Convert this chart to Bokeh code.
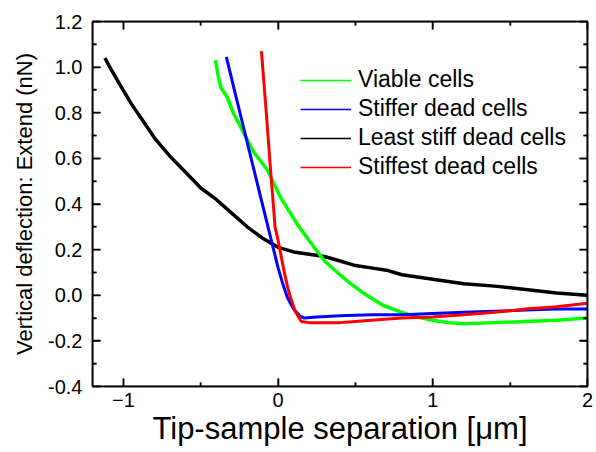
from bokeh.plotting import figure
from bokeh.models import (LinearAxis, Range1d, Legend, LegendItem, FixedTicker,
                          CustomJSTickFormatter, Span, Arrow)
from bokeh.embed import file_html
from bokeh.resources import INLINE

# ---- data ----
black_x = [-1.12, -1.08, -1.02, -0.95, -0.88, -0.8, -0.7, -0.6, -0.5, -0.4, -0.3, -0.2, -0.1, 0.0,
           0.1, 0.2, 0.3, 0.4, 0.5, 0.6, 0.7, 0.8, 0.9, 1.0, 1.2, 1.4, 1.6, 1.8, 2.0]
black_y = [1.04, 0.99, 0.92, 0.84, 0.77, 0.69, 0.61, 0.54, 0.47, 0.42, 0.36, 0.30, 0.25, 0.21,
           0.19, 0.18, 0.17, 0.15, 0.13, 0.12, 0.11, 0.09, 0.08, 0.07, 0.05, 0.04, 0.025, 0.01, 0.0]

green_x = [-0.405, -0.39, -0.37, -0.33, -0.29, -0.24, -0.16, -0.07, 0.015, 0.12, 0.2, 0.3, 0.4,
           0.47, 0.55, 0.68, 0.8, 0.9, 1.0, 1.1, 1.2, 1.4, 1.6, 1.8, 2.0]
green_y = [1.03, 0.97, 0.91, 0.87, 0.80, 0.735, 0.63, 0.55, 0.43, 0.315, 0.24, 0.15, 0.09,
           0.05, 0.01, -0.045, -0.075, -0.095, -0.11, -0.12, -0.125, -0.12, -0.115, -0.11, -0.10]

blue_x = [-0.335, -0.2, -0.06, 0.0, 0.03, 0.06, 0.1, 0.14, 0.17, 0.25, 0.4, 0.6, 0.8, 1.0,
          1.2, 1.4, 1.6, 1.8, 2.0]
blue_y = [1.045, 0.67, 0.284, 0.12, 0.05, -0.01, -0.06, -0.09, -0.10, -0.095, -0.09, -0.085,
          -0.085, -0.08, -0.075, -0.07, -0.065, -0.06, -0.06]

red_x = [-0.108, -0.08, -0.05, -0.02, 0.0, 0.02, 0.04, 0.06, 0.08, 0.11, 0.15, 0.2, 0.3, 0.4,
         0.5, 0.6, 0.8, 1.0, 1.2, 1.4, 1.6, 1.8, 2.0]
red_y = [1.07, 0.83, 0.56, 0.30, 0.24, 0.17, 0.10, 0.04, -0.01, -0.07, -0.115, -0.12, -0.12,
         -0.12, -0.115, -0.11, -0.10, -0.095, -0.085, -0.075, -0.06, -0.05, -0.035]

series_names = ["Viable cells", "Stiffer dead cells", "Least stiff dead cells", "Stiffest dead cells"]
series_colors = ["#00ff00", "#0000ff", "#000000", "#ff0000"]

x_lim = (-1.2, 2.0)
y_lim = (-0.4, 1.2)
x_ticks = [-1, 0, 1, 2]
x_minor = [-0.5, 0.5, 1.5]
y_ticks = [-0.4, -0.2, 0.0, 0.2, 0.4, 0.6, 0.8, 1.0, 1.2]
y_minor = [-0.3, -0.1, 0.1, 0.3, 0.5, 0.7, 0.9, 1.1]
y_tick_labels = {-0.4: "-0.4", -0.2: "-0.2", 0.0: "0.0", 0.2: "0.2", 0.4: "0.4",
                 0.6: "0.6", 0.8: "0.8", 1.0: "1.0", 1.2: "1.2"}

FONT = "Liberation Sans"
INK = "#000000"

W, H = 596, 452
BL, BR, BT, BB = 92, 9, 21, 66

p = figure(width=W, height=H, output_backend="svg", toolbar_location=None,
           x_range=Range1d(*x_lim), y_range=Range1d(*y_lim),
           min_border_left=BL, min_border_right=BR, min_border_top=BT, min_border_bottom=BB)
p.grid.visible = False
p.outline_line_color = INK
p.outline_line_width = 1.5


def style_axis(ax):
    ax.axis_line_color = INK
    ax.major_tick_line_color = INK
    ax.minor_tick_line_color = INK
    ax.axis_line_width = 1.5
    ax.major_tick_line_width = 1.5
    ax.minor_tick_line_width = 1.5
    ax.major_tick_in = 8
    ax.major_tick_out = 0
    ax.minor_tick_in = 4
    ax.minor_tick_out = 0
    ax.major_label_text_font = FONT
    ax.major_label_text_color = INK
    ax.major_label_text_font_size = "20px"
    ax.axis_label_text_font = FONT
    ax.axis_label_text_color = INK
    ax.axis_label_text_font_style = "normal"


xb = p.xaxis[0]
xb.ticker = FixedTicker(ticks=x_ticks, minor_ticks=x_minor)
yl = p.yaxis[0]
yl.ticker = FixedTicker(ticks=y_ticks, minor_ticks=y_minor)
style_axis(xb)
style_axis(yl)

xb.major_label_standoff = 6
xb.axis_label = "Tip-sample separation [\u03bcm]"
xb.axis_label_text_font_size = "31px"
xb.axis_label_standoff = 1

yl.major_label_standoff = 10
yl.major_label_overrides = y_tick_labels
yl.axis_label = "Vertical deflection: Extend (nN)"
yl.axis_label_text_font_size = "22px"
yl.axis_label_standoff = 8

for loc, tks, mnr in (("above", x_ticks, x_minor), ("right", y_ticks, y_minor)):
    ax = LinearAxis(ticker=FixedTicker(ticks=tks, minor_ticks=mnr),
                    formatter=CustomJSTickFormatter(code="return ''"),
                    major_label_standoff=0)
    style_axis(ax)
    p.add_layout(ax, loc)

# ---- data curves ----
p.line(black_x, black_y, color=series_colors[2], line_width=3.5)
p.line(green_x, green_y, color=series_colors[0], line_width=3.5)
p.line(blue_x, blue_y, color=series_colors[1], line_width=3)
p.line(red_x, red_y, color=series_colors[3], line_width=3)

# ---- frame edges and inward ticks as annotations on the data scales ----
for loc, dim in ((x_lim[0], "height"), (x_lim[1], "height"),
                 (y_lim[0], "width"), (y_lim[1], "width")):
    p.add_layout(Span(location=loc, dimension=dim, line_color=INK, line_width=1.5))

fw = W - BL - BR
fh = H - BT - BB
dx = (x_lim[1] - x_lim[0]) / fw      # data units per pixel
dy = (y_lim[1] - y_lim[0]) / fh

for tl, xt, yt in ((8, x_ticks, y_ticks), (4, x_minor, y_minor)):
    for t in xt:
        for yb, sgn in ((y_lim[0], 1), (y_lim[1], -1)):
            p.add_layout(Arrow(end=None, x_start=t, y_start=yb, x_end=t, y_end=yb + sgn * tl * dy,
                               line_color=INK, line_width=1.5))
    for t in yt:
        for xb_, sgn in ((x_lim[0], 1), (x_lim[1], -1)):
            p.add_layout(Arrow(end=None, x_start=xb_, y_start=t, x_end=xb_ + sgn * tl * dx, y_end=t,
                               line_color=INK, line_width=1.5))

# ---- legend (thin sample lines; renderers hold a single NaN point) ----
items = []
for name, col in zip(series_names, series_colors):
    r = p.line([float("nan")], [float("nan")], color=col, line_width=1.5)
    items.append(LegendItem(label=name, renderers=[r]))
legend = Legend(items=items, location=(208, 206), glyph_width=51, glyph_height=20,
                label_height=20, label_standoff=7, spacing=2, padding=0, margin=0,
                border_line_color=None, background_fill_alpha=0,
                label_text_font=FONT, label_text_font_size="23px", label_text_color=INK)
p.add_layout(legend, "center")

open("out.html", "w").write(file_html(p, INLINE))
